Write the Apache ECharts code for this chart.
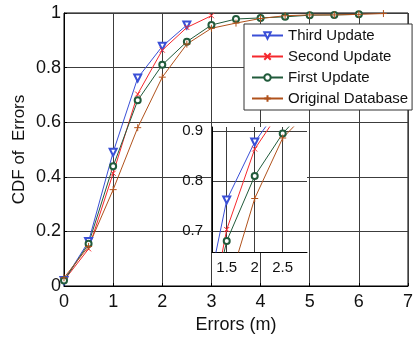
<!DOCTYPE html>
<html>
<head>
<meta charset="utf-8">
<script src="https://cdn.jsdelivr.net/npm/echarts@6/dist/echarts.min.js"></script>
<style>
  html, body { margin: 0; padding: 0; background: #fff; }
  #main { width: 416px; height: 340px; }
</style>
</head>
<body>
<div id="main"></div>
<script>
// error thresholds (m), shared by all curves
var errors = [0, 0.5, 1, 1.5, 2, 2.5, 3, 3.5, 4, 4.5, 5, 5.5, 6, 6.5];

// CDF values
var thirdUpdate = [0.02, 0.163, 0.49, 0.762, 0.878, 0.956];
var secondUpdate = [0.02, 0.136, 0.413, 0.703, 0.864, 0.947, 0.99];
var firstUpdate = [0.02, 0.155, 0.439, 0.68, 0.81, 0.895, 0.956, 0.978, 0.982, 0.986, 0.992, 0.993, 0.995];
var originalDatabase = [0.03, 0.145, 0.353, 0.58, 0.765, 0.886, 0.944, 0.963, 0.98, 0.99, 0.993, 0.993, 0.995, 0.998];

var seriesNames = ['Third Update', 'Second Update', 'First Update', 'Original Database'];
var xTicks = [0, 1, 2, 3, 4, 5, 6, 7];
var yTicks = [0, 0.2, 0.4, 0.6, 0.8, 1];
var insetXTicks = [1.5, 2, 2.5];
var insetYTicks = [0.7, 0.8, 0.9];

var myChart = echarts.init(document.getElementById('main'));

var FONT = 'Liberation Sans, Arial, sans-serif';
var GRIDLINE = '#3c3c3c';

function pairs(vals) {
    return vals.map(function (v, i) { return [errors[i], v]; });
}

var styles = [
    { data: thirdUpdate, color: '#3a4fd6', symbol: 'emptyTriangle', rotate: 180, size: 7 },
    { data: secondUpdate, color: '#f5282d', symbol: 'path://M0,0L10,10M0,10L10,0', rotate: 0, size: 5 },
    { data: firstUpdate, color: '#215b3b', symbol: 'emptyCircle', rotate: 0, size: 6 },
    { data: originalDatabase, color: '#b0521c', symbol: 'path://M5,0L5,10M0,5L10,5', rotate: 0, size: 7 }
];

var series = [];
// main plot curves, then the same curves in the zoomed inset
[0, 1].forEach(function (axisIdx) {
    styles.forEach(function (s, k) {
        series.push({
            name: seriesNames[k],
            type: 'line',
            xAxisIndex: axisIdx,
            yAxisIndex: axisIdx,
            data: pairs(s.data),
            symbol: s.symbol,
            symbolRotate: s.rotate,
            symbolSize: s.size,
            showAllSymbol: true,
            clip: true,
            z: axisIdx ? 6 : 2,
            animation: false,
            lineStyle: { color: s.color, width: 1 },
            itemStyle: { color: s.color, borderColor: s.color, borderWidth: 1 },
            emphasis: { disabled: true }
        });
    });
});

var option = {
    backgroundColor: '#fff',
    animation: false,
    legend: {
        data: seriesNames,
        orient: 'vertical',
        left: 244,
        top: 24,
        padding: [4, 4, 4, 7],
        itemWidth: 31,
        itemHeight: 8,
        itemGap: 6,
        backgroundColor: '#fff',
        borderColor: '#333',
        borderWidth: 1,
        textStyle: { fontFamily: FONT, fontSize: 15, color: '#111' },
        z: 10
    },
    grid: [
        { left: 64, right: 4, top: 13, bottom: 54, show: true, borderColor: '#000', borderWidth: 1 },
        { left: 212, top: 127, width: 95, height: 125, show: true, backgroundColor: '#fff', borderWidth: 0, z: 4 }
    ],
    xAxis: [{
        type: 'value', gridIndex: 0, min: 0, max: 7, interval: 1,
        name: 'Errors (m)', nameLocation: 'middle', nameGap: 21,
        nameTextStyle: { fontFamily: FONT, fontSize: 18, color: '#111' },
        axisLine: { lineStyle: { color: '#000' } },
        axisTick: { inside: true, length: 3, lineStyle: { color: '#000' } },
        axisLabel: { customValues: xTicks, fontFamily: FONT, fontSize: 18, color: '#111', margin: 7 },
        splitLine: { show: true, lineStyle: { color: GRIDLINE, width: 1 } }
    }, {
        type: 'value', gridIndex: 1, min: 1.237, max: 2.934, z: 5,
        axisLine: { lineStyle: { color: '#000' } },
        axisTick: { show: false, customValues: insetXTicks },
        axisLabel: { customValues: insetXTicks, fontFamily: FONT, fontSize: 15, color: '#111', margin: 8 },
        splitLine: { show: true, lineStyle: { color: GRIDLINE, width: 1 } }
    }],
    yAxis: [{
        type: 'value', gridIndex: 0, min: 0, max: 1, interval: 0.2,
        name: 'CDF of  Errors', nameLocation: 'middle', nameGap: 36, nameMoveOverlap: false,
        nameTextStyle: { fontFamily: FONT, fontSize: 17, color: '#111' },
        axisLine: { lineStyle: { color: '#000' } },
        axisTick: { inside: true, length: 3, lineStyle: { color: '#000' } },
        axisLabel: { customValues: yTicks, fontFamily: FONT, fontSize: 18, color: '#111', margin: 3 },
        splitLine: { show: true, lineStyle: { color: GRIDLINE, width: 1 } }
    }, {
        type: 'value', gridIndex: 1, min: 0.658, max: 0.908, z: 5,
        axisLine: { lineStyle: { color: '#000' } },
        axisTick: { show: false, customValues: insetYTicks },
        axisLabel: { customValues: insetYTicks, fontFamily: FONT, fontSize: 15, color: '#111', margin: 9 },
        splitLine: { show: true, lineStyle: { color: GRIDLINE, width: 1 } }
    }],
    series: series
};

myChart.setOption(option);
</script>
</body>
</html>
